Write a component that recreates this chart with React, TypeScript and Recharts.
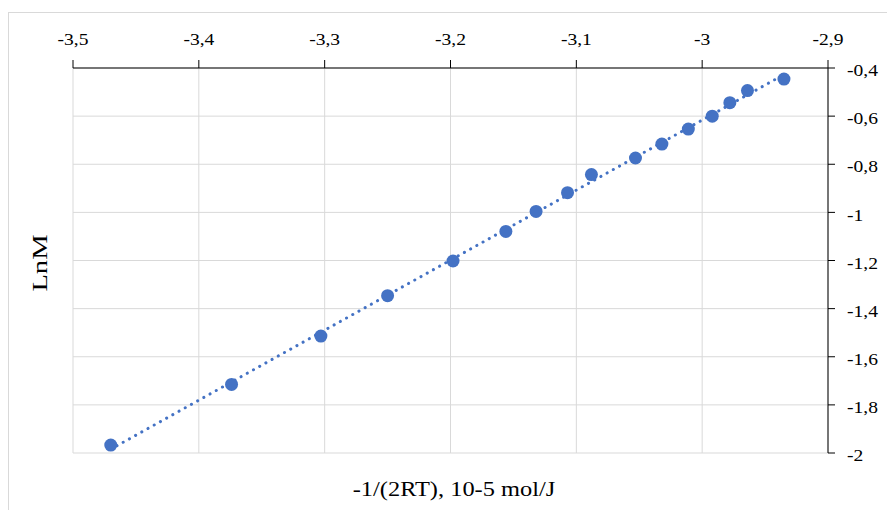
import React from "react";
import { ScatterChart, Scatter, XAxis, YAxis, CartesianGrid } from "recharts";

// -1/(2RT), 10^-5 mol/J
export const invTemp = [
  -3.47, -3.374, -3.303, -3.25, -3.198, -3.156, -3.132, -3.107, -3.088, -3.053,
  -3.032, -3.011, -2.992, -2.978, -2.964, -2.935,
];
// LnM
export const lnM = [
  -1.967, -1.715, -1.514, -1.346, -1.202, -1.079, -0.996, -0.918, -0.843, -0.774,
  -0.716, -0.654, -0.6, -0.544, -0.494, -0.446,
];

export const xTicks = [-3.5, -3.4, -3.3, -3.2, -3.1, -3, -2.9];
export const yTicks = [-2, -1.8, -1.6, -1.4, -1.2, -1, -0.8, -0.6, -0.4];

const data = invTemp.map((x, i) => ({ x, y: lnM[i] }));

const FONT = "'Times New Roman', 'Liberation Serif', serif";
const fmt = (v: number) => String(v).replace(".", ",");

const TopTick = (props: any) => {
  const { x, y, payload } = props;
  return (
    <g transform={`translate(${x},${y})`}>
      <text transform="scale(1.15,1)" textAnchor="middle" fill="#000" fontSize={17} fontFamily={FONT}>
        {fmt(payload.value)}
      </text>
    </g>
  );
};

const RightTick = (props: any) => {
  const { x, y, payload } = props;
  return (
    <g transform={`translate(${x},${y})`}>
      <text transform="scale(1.15,1)" textAnchor="start" dy="0.48em" fill="#000" fontSize={17} fontFamily={FONT}>
        {fmt(payload.value)}
      </text>
    </g>
  );
};

const Dot = (props: any) => <circle cx={props.cx} cy={props.cy} r={6.5} fill="#4472C4" />;

export default function App() {
  return (
    <div
      style={{
        position: "fixed",
        left: 8,
        top: 12,
        width: 900,
        height: 520,
        border: "1px solid #d9d9d9",
        background: "#fff",
      }}
    >
      <ScatterChart width={900} height={510} margin={{ top: 15, right: 21, bottom: 70, left: 64 }}>
        <CartesianGrid stroke="#d9d9d9" />
        <XAxis
          type="number"
          dataKey="x"
          orientation="top"
          domain={[-3.5, -2.9]}
          ticks={xTicks}
          height={40}
          tickSize={8}
          tickMargin={15}
          stroke="#000"
          tick={TopTick}
        />
        <YAxis
          type="number"
          dataKey="y"
          orientation="right"
          domain={[-2, -0.4]}
          ticks={yTicks}
          width={60}
          tickSize={7}
          tickMargin={12}
          stroke="#000"
          tick={RightTick}
        />
        <Scatter
          data={data}
          fill="#4472C4"
          shape={Dot}
          line={{ stroke: "#4472C4", strokeWidth: 3, strokeDasharray: "0.1 7", strokeLinecap: "round" }}
          lineType="fitting"
          isAnimationActive={false}
        />
      </ScatterChart>
      <div
        style={{
          position: "absolute",
          left: 445,
          top: 466,
          transform: "translateX(-50%) scaleX(1.22)",
          fontFamily: FONT,
          fontSize: 20,
          lineHeight: "20px",
          whiteSpace: "nowrap",
          color: "#000",
        }}
      >
        -1/(2RT), 10-5 mol/J
      </div>
      <div
        style={{
          position: "absolute",
          left: 31,
          top: 250,
          transform: "translate(-50%,-50%) rotate(-90deg) scaleX(1.3)",
          fontFamily: FONT,
          fontSize: 22,
          lineHeight: "22px",
          whiteSpace: "nowrap",
          color: "#000",
        }}
      >
        LnM
      </div>
    </div>
  );
}
